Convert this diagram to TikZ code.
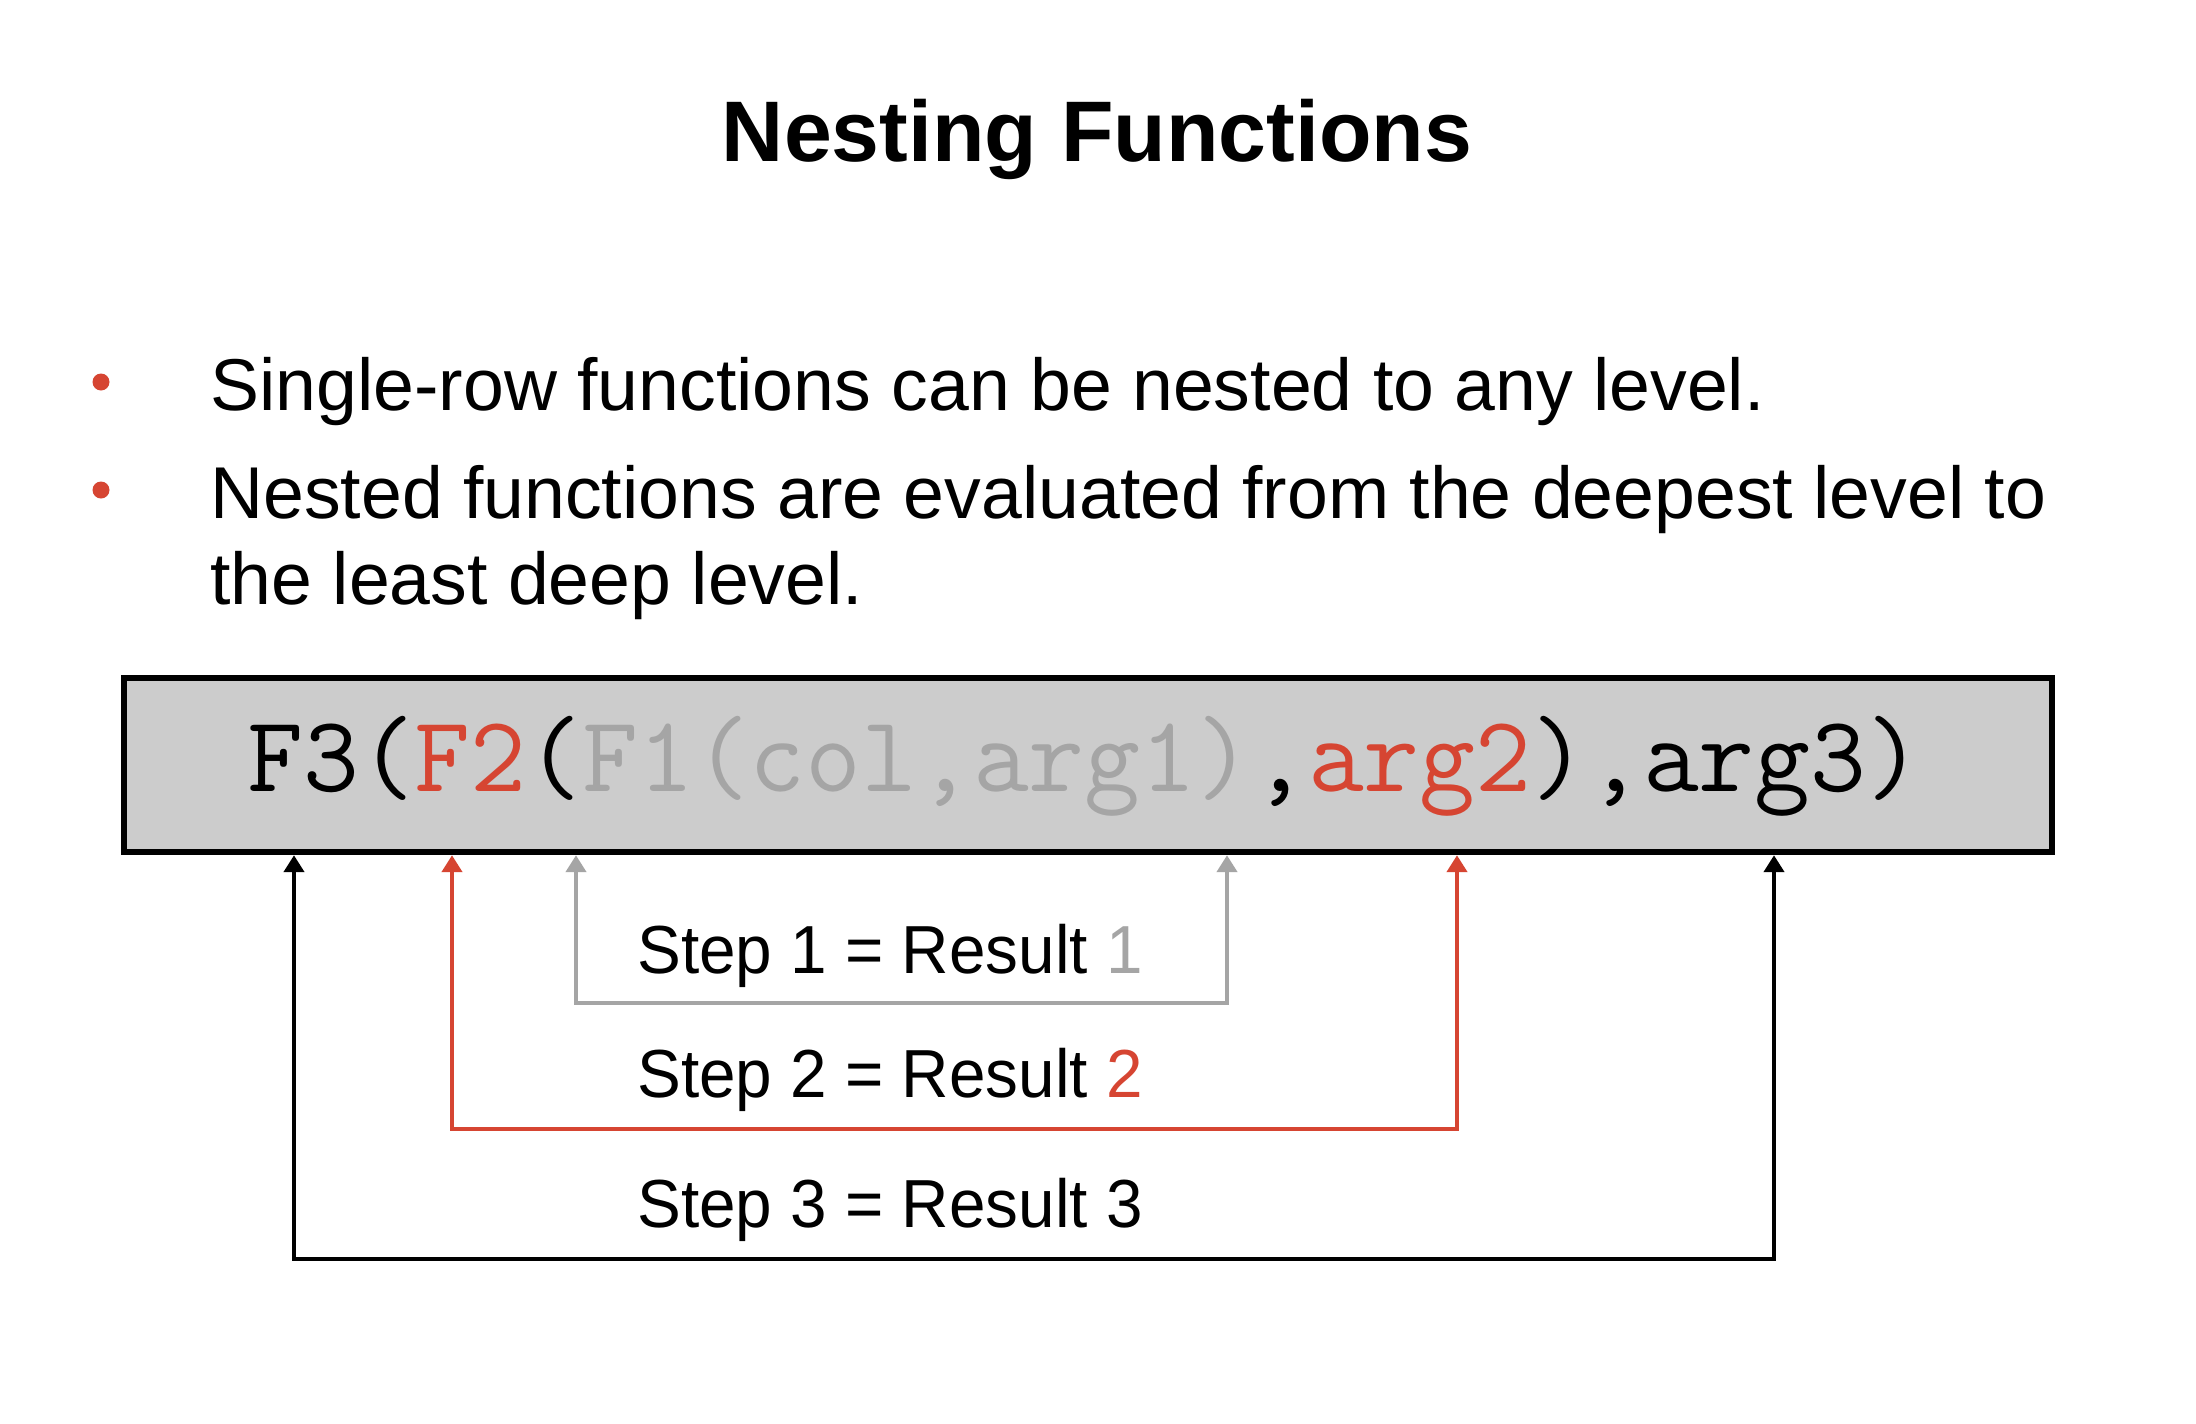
\documentclass[tikz,border=0pt]{standalone}
\usepackage{fontspec}
\setmainfont{Liberation Sans}
\newfontfamily\stepfont{Liberation Sans}[FakeStretch=0.965]
\usetikzlibrary{arrows.meta}

\definecolor{accent}{RGB}{214,69,50}
\definecolor{soft}{RGB}{165,165,165}
\definecolor{boxfill}{RGB}{204,204,204}

\tikzset{
  title/.style={anchor=base, inner sep=0pt, font=\fontsize{43pt}{50pt}\selectfont\bfseries},
  bullettext/.style={anchor=base west, inner sep=0pt, font=\fontsize{36.7pt}{42pt}\selectfont},
  bulletdot/.style={circle, fill=accent, inner sep=0pt, minimum size=8.5pt},
  codebox/.style={draw=black, line width=3.2pt, fill=boxfill, inner sep=0pt,
                  minimum width=964pt, minimum height=87pt},
  codetext/.style={anchor=base west, inner sep=0pt, font=\fontsize{54.2pt}{58pt}\ttfamily},
  steptext/.style={anchor=base west, inner sep=0pt, font=\fontsize{34pt}{40pt}\stepfont},
  link/.style={line width=2.4pt, {Triangle[length=8.5pt,width=10pt]}-{Triangle[length=8.5pt,width=10pt]}},
}

\begin{document}
\begin{tikzpicture}[x=0.5pt, y=-0.5pt]
  \useasboundingbox[fill=white] (0,0) rectangle (2196,1424);

  % heading
  \node[title] (head) at (1097,161) {Nesting Functions};

  % bullet list
  \node[bulletdot] (d1) at (101,382) {};
  \node[bulletdot] (d2) at (101,490) {};
  \node[bullettext] (b1) at (210,410) {Single-row functions can be nested to any level.};
  \node[bullettext] (b2) at (210,518) {Nested functions are evaluated from the deepest level to};
  \node[bullettext] (b3) at (210,604) {the least deep level.};

  % nested call
  \node[codebox] (box) at (1088,765) {};
  \node[codetext] (code) at (247,791)
    {F3(\textcolor{accent}{F2}(\textcolor{soft}{F1(col,arg1)},\textcolor{accent}{arg2}),arg3)};

  % feet of the evaluation brackets
  \coordinate (g1) at (576,1003);
  \coordinate (g2) at (1227,1003);
  \coordinate (r1) at (452,1129);
  \coordinate (r2) at (1457,1129);
  \coordinate (k1) at (294,1259);
  \coordinate (k2) at (1774,1259);

  \draw[link, draw=soft] (box.south -| g1) -- (g1) -- (g2) -- (box.south -| g2);
  \draw[link, draw=accent] (box.south -| r1) -- (r1) -- (r2) -- (box.south -| r2);
  \draw[link, draw=black] (box.south -| k1) -- (k1) -- (k2) -- (box.south -| k2);

  % step labels
  \node[steptext] (s1) at (637,973) {Step 1 = Result \textcolor{soft}{1}};
  \node[steptext] (s2) at (637,1097) {Step 2 = Result \textcolor{accent}{2}};
  \node[steptext] (s3) at (637,1227) {Step 3 = Result 3};
\end{tikzpicture}
\end{document}
